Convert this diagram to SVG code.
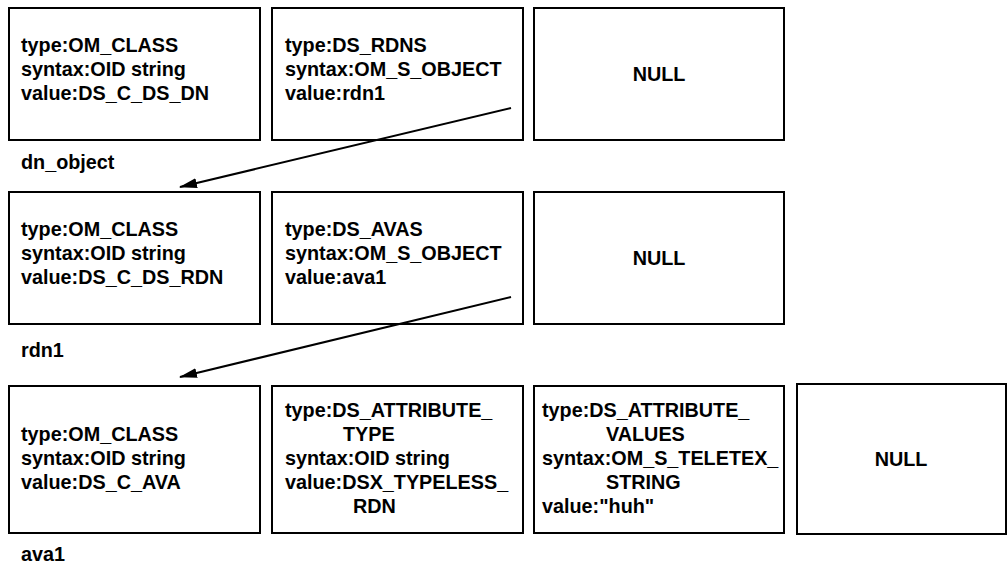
<svg xmlns="http://www.w3.org/2000/svg" width="1008" height="565" viewBox="0 0 1008 565">
  <style>
    .box { fill: #ffffff; stroke: #000000; stroke-width: 2; }
    .t { font-family: "Liberation Sans", Arial, Helvetica, sans-serif; font-weight: bold; font-size: 19.8px; fill: #000000; }
    .c { text-anchor: middle; }
    .conn { stroke: #000000; stroke-width: 2; fill: none; marker-end: url(#arrow); }
  </style>
  <defs>
    <marker id="arrow" viewBox="0 0 18 10" refX="17" refY="5" markerWidth="18" markerHeight="10" markerUnits="userSpaceOnUse" orient="auto">
      <path d="M0,0 L18,5 L0,10 z" fill="#000000"/>
    </marker>
  </defs>
  <rect width="1008" height="565" fill="#ffffff"/>

  <!-- Row 1: dn_object -->
  <g id="dn_object_class">
    <rect class="box" x="9" y="8" width="251" height="132"/>
    <text class="t" x="21" y="52">type:OM_CLASS</text>
    <text class="t" x="21" y="76">syntax:OID string</text>
    <text class="t" x="21" y="100">value:DS_C_DS_DN</text>
  </g>
  <g id="dn_object_rdns">
    <rect class="box" x="272" y="8" width="251" height="132"/>
    <text class="t" x="285" y="52">type:DS_RDNS</text>
    <text class="t" x="285" y="76">syntax:OM_S_OBJECT</text>
    <text class="t" x="285" y="100">value:rdn1</text>
  </g>
  <g id="dn_object_null">
    <rect class="box" x="534" y="8" width="250" height="132"/>
    <text class="t c" x="659" y="81">NULL</text>
  </g>
  <g id="label_dn_object">
    <text class="t" x="21" y="169">dn_object</text>
  </g>

  <!-- Row 2: rdn1 -->
  <g id="rdn1_class">
    <rect class="box" x="9" y="192" width="251" height="132"/>
    <text class="t" x="21" y="236">type:OM_CLASS</text>
    <text class="t" x="21" y="260">syntax:OID string</text>
    <text class="t" x="21" y="284">value:DS_C_DS_RDN</text>
  </g>
  <g id="rdn1_avas">
    <rect class="box" x="272" y="192" width="251" height="132"/>
    <text class="t" x="285" y="236">type:DS_AVAS</text>
    <text class="t" x="285" y="260">syntax:OM_S_OBJECT</text>
    <text class="t" x="285" y="284">value:ava1</text>
  </g>
  <g id="rdn1_null">
    <rect class="box" x="534" y="192" width="250" height="132"/>
    <text class="t c" x="659" y="265">NULL</text>
  </g>
  <g id="label_rdn1">
    <text class="t" x="21" y="357">rdn1</text>
  </g>

  <!-- Row 3: ava1 -->
  <g id="ava1_class">
    <rect class="box" x="9" y="386" width="251" height="147"/>
    <text class="t" x="21" y="441">type:OM_CLASS</text>
    <text class="t" x="21" y="465">syntax:OID string</text>
    <text class="t" x="21" y="489">value:DS_C_AVA</text>
  </g>
  <g id="ava1_type">
    <rect class="box" x="272" y="386" width="251" height="147"/>
    <text class="t" x="285" y="417">type:DS_ATTRIBUTE_</text>
    <text class="t" x="343" y="441">TYPE</text>
    <text class="t" x="285" y="465">syntax:OID string</text>
    <text class="t" x="285" y="489">value:DSX_TYPELESS_</text>
    <text class="t" x="353" y="513">RDN</text>
  </g>
  <g id="ava1_values">
    <rect class="box" x="534" y="386" width="250" height="147"/>
    <text class="t" x="542" y="417">type:DS_ATTRIBUTE_</text>
    <text class="t" x="606" y="441">VALUES</text>
    <text class="t" x="542" y="465">syntax:OM_S_TELETEX_</text>
    <text class="t" x="606" y="489">STRING</text>
    <text class="t" x="542" y="513">value:"huh"</text>
  </g>
  <g id="ava1_null">
    <rect class="box" x="797" y="384" width="209" height="150"/>
    <text class="t c" x="901" y="466">NULL</text>
  </g>
  <g id="label_ava1">
    <text class="t" x="21" y="561">ava1</text>
  </g>

  <!-- Connectors -->
  <g id="connectors">
    <line class="conn" x1="511" y1="108" x2="180" y2="187"/>
    <line class="conn" x1="511" y1="297" x2="180" y2="377"/>
  </g>
</svg>
